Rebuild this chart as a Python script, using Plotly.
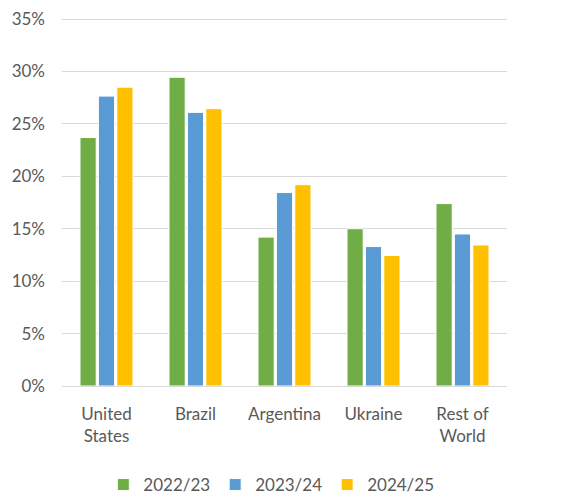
import plotly.graph_objects as go

countries = ["United<br>States", "Brazil", "Argentina", "Ukraine", "Rest of<br>World"]
seasons = ["2022/23", "2023/24", "2024/25"]
share_2022 = [23.7, 29.45, 14.2, 15.0, 17.4]
share_2023 = [27.65, 26.1, 18.45, 13.3, 14.5]
share_2024 = [28.5, 26.45, 19.2, 12.45, 13.45]
colors = ["#70AD47", "#5B9BD5", "#FFC000"]

fig = go.Figure()
for name, vals, col in zip(seasons, [share_2022, share_2023, share_2024], colors):
    fig.add_trace(go.Bar(
        x=countries, y=[v / 100 for v in vals], name=name,
        marker=dict(color=col, line=dict(color="white", width=1)),
    ))

txt = "#595959"
# page body has an 8px margin, so the margins are shifted by that
fig.update_layout(
    width=580, height=500,
    paper_bgcolor="white", plot_bgcolor="white",
    margin=dict(l=54, r=81, t=10, b=122),
    barmode="group", bargap=0.38, bargroupgap=0.12,
    font=dict(family="Lato, Open Sans, sans-serif", size=17, color=txt),
    legend=dict(orientation="h", xref="container", yref="container",
                x=0.454, xanchor="center", y=0.046, yanchor="middle",
                itemwidth=30, font=dict(size=17, color=txt), itemclick=False),
    showlegend=True,
)
fig.update_yaxes(range=[0, 0.351], dtick=0.05, tickformat=".0%", showgrid=True,
                 gridcolor="#D9D9D9", gridwidth=1, zeroline=True, zerolinecolor="#D9D9D9",
                 zerolinewidth=1, ticks="", ticklabelstandoff=16, showline=False, automargin=False)
fig.update_xaxes(showgrid=False, ticks="", showline=False, ticklabelstandoff=16,
                 tickfont=dict(size=17, color=txt), automargin=False)

fig.write_html("out.html")
